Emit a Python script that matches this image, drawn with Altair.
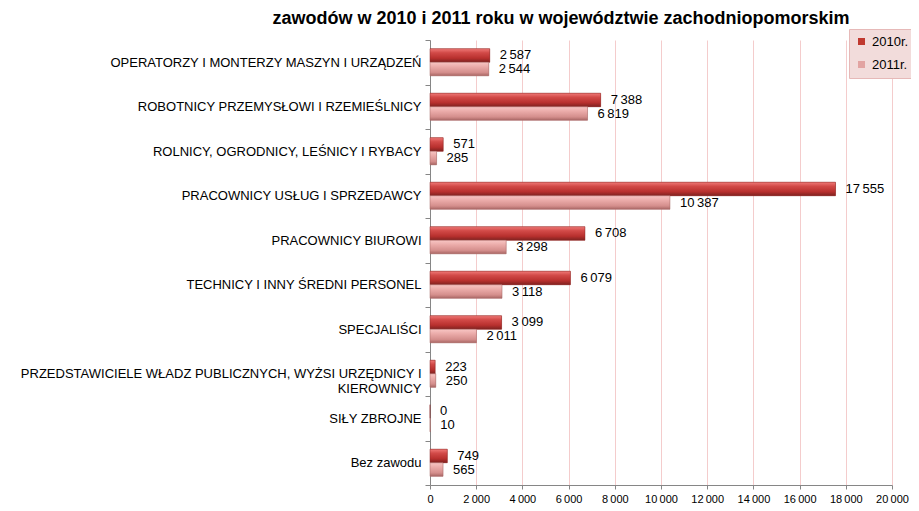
import altair as alt
import pandas as pd

categories = [
    "OPERATORZY I MONTERZY MASZYN I URZĄDZEŃ",
    "ROBOTNICY PRZEMYSŁOWI I RZEMIEŚLNICY",
    "ROLNICY, OGRODNICY, LEŚNICY I RYBACY",
    "PRACOWNICY USŁUG I SPRZEDAWCY",
    "PRACOWNICY BIUROWI",
    "TECHNICY I INNY ŚREDNI PERSONEL",
    "SPECJALIŚCI",
    "PRZEDSTAWICIELE WŁADZ PUBLICZNYCH, WYŻSI URZĘDNICY I|KIEROWNICY",
    "SIŁY ZBROJNE",
    "Bez zawodu",
]
values_2010 = [2587, 7388, 571, 17555, 6708, 6079, 3099, 223, 0, 749]
values_2011 = [2544, 6819, 285, 10387, 3298, 3118, 2011, 250, 10, 565]
series = ["2010r.", "2011r."]
x_ticks = [0, 2000, 4000, 6000, 8000, 10000, 12000, 14000, 16000, 18000, 20000]
title_text = "zawodów w 2010 i 2011 roku w województwie zachodniopomorskim"

rows = []
for c, a, b in zip(categories, values_2010, values_2011):
    rows.append({"kat": c, "rok": series[0], "v": a})
    rows.append({"kat": c, "rok": series[1], "v": b})
df = pd.DataFrame(rows)

y_enc = alt.Y(
    "kat:N",
    sort=categories,
    title=None,
    scale=alt.Scale(paddingInner=0, paddingOuter=0),
    axis=alt.Axis(
        labelExpr="split(datum.label, '|')",
        labelFontSize=13,
        labelColor="#000000",
        labelPadding=4,
        labelLineHeight=15,
        tickBand="extent",
        tickSize=5,
        tickColor="#868686",
        domainColor="#868686",
        grid=False,
        labelLimit=500,
    ),
)
yoff_enc = alt.YOffset(
    "rok:N",
    scale=alt.Scale(domain=series, paddingInner=0, paddingOuter=0.64),
)
x_enc = alt.X(
    "v:Q",
    title=None,
    scale=alt.Scale(domain=[0, 20000], nice=False),
    axis=alt.Axis(
        values=x_ticks,
        labelExpr="replace(format(datum.value, ','), ',', '\u2009')",
        labelFontSize=11,
        labelColor="#000000",
        labelOverlap=False,
        labelFlush=False,
        tickSize=4,
        tickColor="#868686",
        domainColor="#868686",
        gridColor="#f4cccc",
        gridWidth=1,
        labelPadding=4,
    ),
)

base = alt.Chart(df)

bars = base.mark_bar().encode(
    y=y_enc,
    yOffset=yoff_enc,
    x=x_enc,
    color=alt.Color(
        "rok:N",
        scale=alt.Scale(domain=series, range=["#c0392f", "#e2a4a2"]),
        legend=alt.Legend(
            title=None,
            orient="none",
            legendX=419,
            legendY=-11,
            fillColor="#f2dcdb",
            strokeColor="#e6b9b8",
            padding=6,
            symbolType="square",
            symbolSize=49,
            symbolStrokeWidth=0,
            labelOffset=4,
            labelFontSize=13,
            labelColor="#000000",
            rowPadding=9,
        ),
    ),
)

grad_2010 = alt.Gradient(
    gradient="linear",
    x1=0, x2=0, y1=0, y2=1,
    stops=[
        alt.GradientStop(color="#f07a78", offset=0),
        alt.GradientStop(color="#d24a48", offset=0.3),
        alt.GradientStop(color="#b8302e", offset=0.7),
        alt.GradientStop(color="#7e2220", offset=1),
    ],
)
grad_2011 = alt.Gradient(
    gradient="linear",
    x1=0, x2=0, y1=0, y2=1,
    stops=[
        alt.GradientStop(color="#f8c6c4", offset=0),
        alt.GradientStop(color="#eaaaa8", offset=0.35),
        alt.GradientStop(color="#d48e8c", offset=0.75),
        alt.GradientStop(color="#a86664", offset=1),
    ],
)

bars_2010 = base.transform_filter(alt.datum.rok == series[0]).mark_bar(
    fill=grad_2010, stroke="#8a2a28", strokeWidth=0.5
).encode(y=y_enc, yOffset=yoff_enc, x=x_enc)
bars_2011 = base.transform_filter(alt.datum.rok == series[1]).mark_bar(
    fill=grad_2011, stroke="#a06462", strokeWidth=0.5
).encode(y=y_enc, yOffset=yoff_enc, x=x_enc)

labels = base.transform_calculate(
    lbl="replace(format(datum.v, ','), ',', '\u2009')"
).mark_text(align="left", baseline="middle", dx=10, fontSize=13, color="#000000").encode(
    y=y_enc, yOffset=yoff_enc, x=x_enc, text="lbl:N"
)

chart = (
    alt.layer(bars, bars_2010, bars_2011, labels)
    .properties(
        width=462,
        height=445,
        autosize=alt.AutoSizeParams(type="none"),
        padding={"left": 422, "top": 32, "right": 19, "bottom": 18},
        title=alt.TitleParams(
            title_text,
            fontSize=18,
            fontWeight="bold",
            anchor="middle",
            frame="group",
            dx=-100,
            offset=1,
            color="#000000",
        ),
        background="#ffffff",
    )
    .configure(font="Liberation Sans")
    .configure_view(stroke=None)
)

chart.save("out.html", embed_options={"renderer": "svg", "actions": False})
